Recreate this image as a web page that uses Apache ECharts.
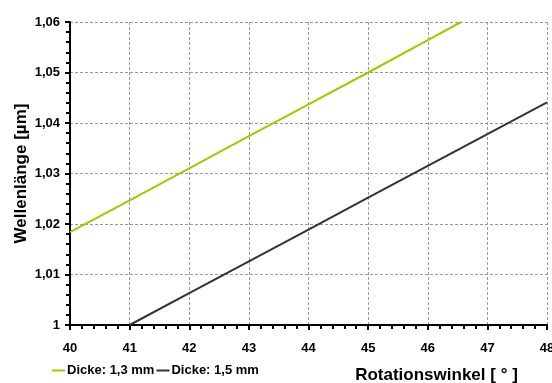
<!DOCTYPE html>
<html><head><meta charset="utf-8">
<script src="https://cdn.jsdelivr.net/npm/echarts@6/dist/echarts.min.js"></script>
<style>html,body{margin:0;padding:0;background:#fff}#c{width:552px;height:383px}</style>
</head><body><div id="c"></div>
<script>
var seriesNames = ['Dicke: 1,3 mm', 'Dicke: 1,5 mm'];
var x13 = [40, 41, 42, 43, 44, 45, 46, 46.56];
var y13 = [1.0184, 1.0247, 1.0310, 1.0374, 1.0437, 1.0500, 1.0564, 1.0600];
var x15 = [41, 42, 43, 44, 45, 46, 47, 48];
var y15 = [1.0000, 1.0063, 1.0126, 1.0189, 1.0252, 1.0315, 1.0378, 1.0441];
var xName = 'Rotationswinkel [ ° ]';
var yName = 'Wellenlänge [µm]';

function pairs(xs, ys){ return xs.map(function(v,i){ return [v, ys[i]]; }); }
var font = 'Liberation Sans, Arial, sans-serif';
var chart = echarts.init(document.getElementById('c'));
chart.setOption({
  animation: false,
  grid: {left: 70, right: 5, top: 22, bottom: 58, containLabel: false, outerBoundsMode: 'none'},
  legend: {
    left: 47, top: 359, itemWidth: 13, itemHeight: 2, itemGap: 2, icon: 'rect',
    textStyle: {fontFamily: font, fontWeight: 'bold', fontSize: 13, color: '#000', width: 95, padding: [0,0,0,-3]},
    data: seriesNames
  },
  xAxis: {
    type: 'value', min: 40, max: 48, interval: 1,
    name: xName, nameLocation: 'middle', nameGap: 42, nameMoveOverlap: false,
    nameTextStyle: {fontFamily: font, fontWeight: 'bold', fontSize: 17, color: '#000', padding: [0, 0, 0, 256]},
    axisLine: {lineStyle: {color: '#000', width: 2}},
    axisTick: {show: true, length: 5, lineStyle: {color: '#000', width: 2}},
    minorTick: {show: true, splitNumber: 5, length: 4, lineStyle: {color: '#000', width: 2}},
    axisLabel: {fontFamily: font, fontWeight: 'bold', fontSize: 13, color: '#000', margin: 17},
    splitLine: {show: true, lineStyle: {color: '#999', type: [3, 2], width: 1}}
  },
  yAxis: {
    type: 'value', min: 1, max: 1.06, interval: 0.01,
    name: yName, nameLocation: 'middle', nameGap: 40, nameMoveOverlap: false,
    nameTextStyle: {fontFamily: font, fontWeight: 'bold', fontSize: 17, color: '#000'},
    axisLine: {show: true, lineStyle: {color: '#000', width: 2}},
    axisTick: {show: true, length: 5, lineStyle: {color: '#000', width: 2}},
    minorTick: {show: true, splitNumber: 5, length: 4, lineStyle: {color: '#000', width: 2}},
    axisLabel: {fontFamily: font, fontWeight: 'bold', fontSize: 13, color: '#000', margin: 10,
      formatter: function(v){ var r = Math.round(v*100)/100; return r === 1 ? '1' : r.toFixed(2).replace('.', ','); }},
    splitLine: {show: true, lineStyle: {color: '#999', type: [3, 2], width: 1}}
  },
  series: [
    {name: seriesNames[0], type: 'line', data: pairs(x13, y13), showSymbol: false, symbol: 'none',
     lineStyle: {color: '#99CC00', width: 2}, itemStyle: {color: '#99CC00'}, clip: true},
    {name: seriesNames[1], type: 'line', data: pairs(x15, y15), showSymbol: false, symbol: 'none',
     lineStyle: {color: '#333333', width: 2}, itemStyle: {color: '#333333'}, clip: true}
  ]
});
</script></body></html>
